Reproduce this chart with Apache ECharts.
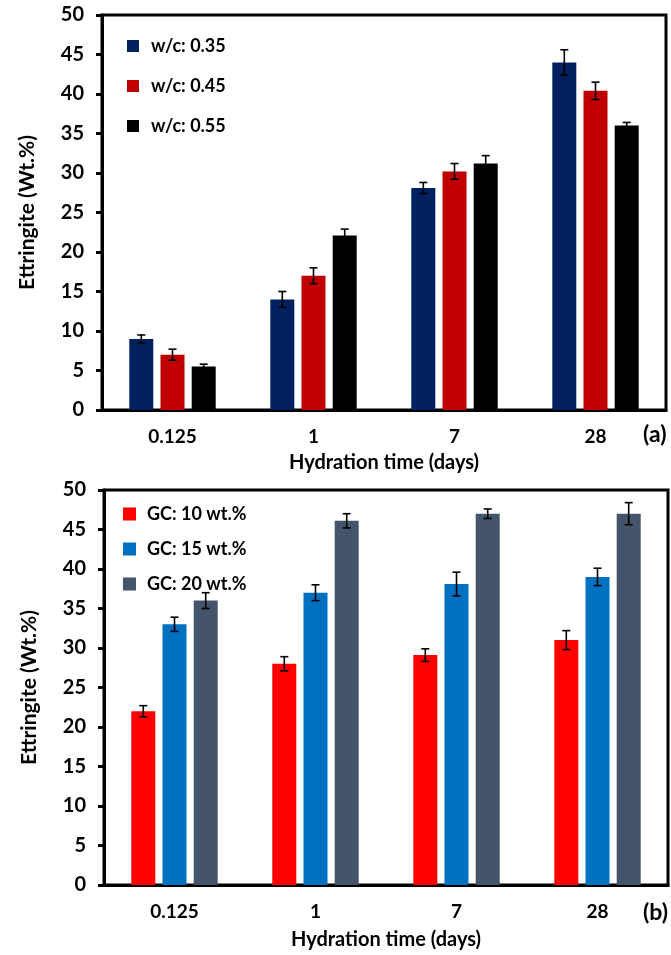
<!DOCTYPE html>
<html>
<head>
<meta charset="utf-8">
<script src="https://cdn.jsdelivr.net/npm/echarts@6/dist/echarts.min.js"></script>
<style>
  html, body { margin: 0; padding: 0; background: #fff; }
  #chart { width: 671px; height: 955px; }
</style>
</head>
<body>
<div id="chart"></div>
<script>
// hydration time categories (days)
const categories = ['0.125', '1', '7', '28'];

// panel (a): water/cement ratio
const wcNames = ['w/c: 0.35', 'w/c: 0.45', 'w/c: 0.55'];
const wc035 = [9.0, 14.0, 28.1, 44.0];
const wc045 = [7.0, 17.0, 30.2, 40.4];
const wc055 = [5.5, 22.1, 31.2, 36.0];
const wc035Err = [0.5, 1.0, 0.7, 1.6];
const wc045Err = [0.7, 1.0, 1.0, 1.1];
const wc055Err = [0.3, 0.8, 1.0, 0.4];

// panel (b): GC content
const gcNames = ['GC: 10 wt.%', 'GC: 15 wt.%', 'GC: 20 wt.%'];
const gc10 = [22.0, 28.0, 29.1, 31.0];
const gc15 = [33.0, 37.0, 38.1, 39.0];
const gc20 = [36.0, 46.1, 47.0, 47.0];
const gc10Err = [0.7, 0.9, 0.8, 1.2];
const gc15Err = [0.9, 1.0, 1.5, 1.1];
const gc20Err = [1.0, 0.9, 0.6, 1.4];

const yTicks = [0, 5, 10, 15, 20, 25, 30, 35, 40, 45, 50];

const FONT = 'Lato';
const BAR_W = 24;
const BAR_GAP = 0.3;
const STEP = BAR_W * (1 + BAR_GAP);

const chart = echarts.init(document.getElementById('chart'));

const barSeries = (name, data, color, idx) => ({
  name,
  type: 'bar',
  xAxisIndex: idx,
  yAxisIndex: idx,
  data,
  barWidth: BAR_W,
  barGap: BAR_GAP * 100 + '%',
  itemStyle: { color },
  z: 2,
});

const errSeries = (name, values, errs, idx, slot) => ({
  name: name + ' err',
  type: 'custom',
  xAxisIndex: idx,
  yAxisIndex: idx,
  z: 5,
  silent: true,
  data: values.map((v, i) => [i, v, errs[i]]),
  renderItem: (params, api) => {
    const c = api.value(0);
    const v = api.value(1);
    const e = api.value(2);
    const x = api.coord([c, v])[0] + (slot - 1) * STEP;
    const hi = api.coord([c, v + e])[1];
    const lo = api.coord([c, v - e])[1];
    const cap = 4;
    const style = { stroke: '#000', lineWidth: 1.6 };
    return {
      type: 'group',
      children: [
        { type: 'line', shape: { x1: x, y1: hi, x2: x, y2: lo }, style },
        { type: 'line', shape: { x1: x - cap, y1: hi, x2: x + cap, y2: hi }, style },
        { type: 'line', shape: { x1: x - cap, y1: lo, x2: x + cap, y2: lo }, style },
      ],
    };
  },
});

const xAxisOf = (idx, gap) => ({
  type: 'category',
  gridIndex: idx,
  data: categories,
  axisLine: { lineStyle: { color: '#000', width: 3 } },
  axisTick: { show: false },
  axisLabel: { color: '#000', fontSize: 19, fontWeight: 'bold', fontFamily: FONT, margin: 17 },
  name: 'Hydration time (days)',
  nameLocation: 'middle',
  nameGap: gap,
  nameTextStyle: { color: '#000', fontSize: 20, fontWeight: 'bold', fontFamily: FONT },
});

const yAxisOf = (idx) => ({
  type: 'value',
  gridIndex: idx,
  min: yTicks[0],
  max: yTicks[yTicks.length - 1],
  interval: 5,
  splitLine: { show: false },
  axisLine: { show: true, lineStyle: { color: '#000', width: 3 } },
  axisTick: { show: true, length: 6, lineStyle: { color: '#000', width: 3 } },
  axisLabel: { color: '#000', fontSize: 20, fontWeight: 'bold', fontFamily: FONT, margin: 18 },
  name: 'Ettringite (Wt.%)',
  nameLocation: 'middle',
  nameRotate: 90,
  nameGap: 64,
  nameTextStyle: { color: '#000', fontSize: 21, fontWeight: 'bold', fontFamily: FONT },
});

const legendOf = (names, left, top, size, gap, pad) => ({
  data: names,
  orient: 'vertical',
  left,
  top,
  padding: 0,
  icon: 'rect',
  itemWidth: size,
  itemHeight: size,
  itemGap: gap,
  selectedMode: false,
  textStyle: { color: '#000', fontSize: 18, fontWeight: 'bold', fontFamily: FONT, padding: [0, 0, 0, pad] },
});

const option = {
  animation: false,
  backgroundColor: '#fff',
  title: [
    { text: '(a)', left: 643, top: 423, padding: 0,
      textStyle: { color: '#000', fontSize: 23, fontWeight: 'bold', fontFamily: FONT } },
    { text: '(b)', left: 643, top: 901, padding: 0,
      textStyle: { color: '#000', fontSize: 23, fontWeight: 'bold', fontFamily: FONT } },
  ],
  legend: [
    legendOf(wcNames, 127, 37, 12, 22, 7),
    legendOf(gcNames, 123, 505, 13, 17, 6),
  ],
  grid: [
    { left: 102, top: 15, width: 564, height: 395, show: true, borderColor: '#000', borderWidth: 3 },
    { left: 104, top: 490, width: 564, height: 395, show: true, borderColor: '#000', borderWidth: 3 },
  ],
  xAxis: [xAxisOf(0, 43), xAxisOf(1, 45)],
  yAxis: [yAxisOf(0), yAxisOf(1)],
  series: [
    barSeries(wcNames[0], wc035, '#002060', 0),
    barSeries(wcNames[1], wc045, '#C00000', 0),
    barSeries(wcNames[2], wc055, '#000000', 0),
    errSeries(wcNames[0], wc035, wc035Err, 0, 0),
    errSeries(wcNames[1], wc045, wc045Err, 0, 1),
    errSeries(wcNames[2], wc055, wc055Err, 0, 2),
    barSeries(gcNames[0], gc10, '#FF0000', 1),
    barSeries(gcNames[1], gc15, '#0070C0', 1),
    barSeries(gcNames[2], gc20, '#44546A', 1),
    errSeries(gcNames[0], gc10, gc10Err, 1, 0),
    errSeries(gcNames[1], gc15, gc15Err, 1, 1),
    errSeries(gcNames[2], gc20, gc20Err, 1, 2),
  ],
};

chart.setOption(option);
window.addEventListener('resize', () => chart.resize());
</script>
</body>
</html>
